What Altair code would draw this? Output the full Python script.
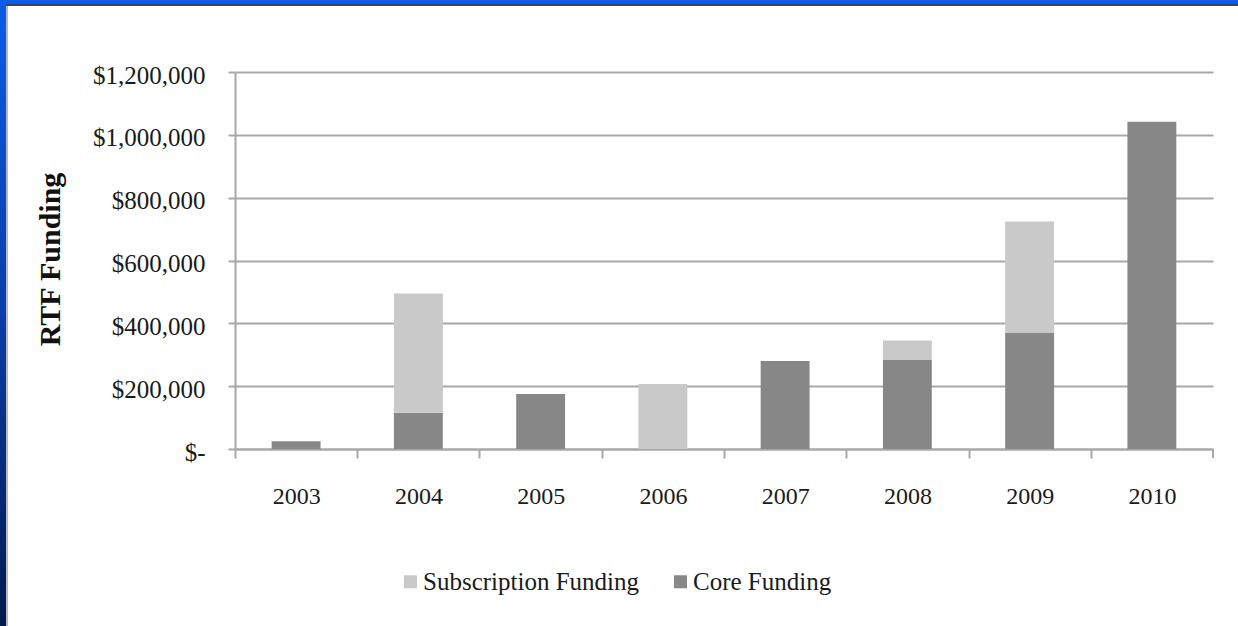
import altair as alt
import pandas as pd

years = ["2003", "2004", "2005", "2006", "2007", "2008", "2009", "2010"]
core_funding = [25000, 115000, 175000, 0, 280000, 283000, 369000, 1042000]
subscription_funding = [0, 380000, 0, 207000, 0, 62000, 355000, 0]
series_names = ["Subscription Funding", "Core Funding"]
series_colors = ["#c9c9c9", "#878787"]
y_ticks = [0, 200000, 400000, 600000, 800000, 1000000, 1200000]

rows = []
for i, y in enumerate(years):
    rows.append({"year": y, "type": "Core Funding", "value": core_funding[i], "ord": 0})
    rows.append({"year": y, "type": "Subscription Funding", "value": subscription_funding[i], "ord": 1})
df = pd.DataFrame(rows)

W, H = 978, 377
PL, PT, PR, PB = 235, 72, 25, 177
STEP = W / len(years)
FONT = "Liberation Serif"
GRID = "#a8a8a8"

one = pd.DataFrame({"k": [0]})

left_grad = alt.LinearGradient(
    gradient="linear",
    stops=[alt.GradientStop(color="#0b5ce8", offset=0),
           alt.GradientStop(color="#0a3ea8", offset=0.5),
           alt.GradientStop(color="#021a4e", offset=1)],
    x1=0, x2=0, y1=0, y2=1,
)

frame_left = alt.Chart(one).mark_rect(color=left_grad).encode(
    x=alt.value(-PL), x2=alt.value(-PL + 6),
    y=alt.value(-PT), y2=alt.value(H + PB),
)
frame_left_line = alt.Chart(one).mark_rect(color="#b8b8b8").encode(
    x=alt.value(-PL + 6), x2=alt.value(-PL + 8),
    y=alt.value(-PT + 4), y2=alt.value(H + PB),
)
frame_top = alt.Chart(one).mark_rect(color="#0b5ce8").encode(
    x=alt.value(-PL), x2=alt.value(W + PR),
    y=alt.value(-PT), y2=alt.value(-PT + 4),
)
frame_top_line = alt.Chart(one).mark_rect(color="#444444").encode(
    x=alt.value(-PL + 6), x2=alt.value(W + PR),
    y=alt.value(-PT + 4), y2=alt.value(-PT + 6),
)
# closing tick at the right end of the category axis
end_tick = alt.Chart(one).mark_rule(color=GRID, strokeWidth=2).encode(
    x=alt.value(W), y=alt.value(H), y2=alt.value(H + 9),
)

label_expr = "datum.value == 0 ? '$-\u00a0\u00a0' : '$' + format(datum.value, ',')"

bars = alt.Chart(df).mark_bar().encode(
    x=alt.X(
        "year:N",
        sort=years,
        scale=alt.Scale(paddingInner=0.6, paddingOuter=0.3),
        axis=alt.Axis(
            title=None, labelAngle=0, labelFont=FONT, labelFontSize=24,
            labelColor="#1a1a1a", labelPadding=26, tickSize=9, tickColor=GRID,
            tickWidth=2, domainColor=GRID, domainWidth=2,
            tickOffset=-STEP / 2, labelOffset=STEP / 2,
            grid=False,
        ),
    ),
    y=alt.Y(
        "value:Q",
        stack="zero",
        scale=alt.Scale(domain=[0, 1200000], nice=False),
        axis=alt.Axis(
            title="RTF Funding", titleFont=FONT, titleFontSize=30,
            titleFontWeight="bold", titleColor="#111111", titleAngle=-90,
            titleX=-185, titleY=187, titleAlign="center", titleBaseline="middle",
            values=y_ticks, labelExpr=label_expr, labelFont=FONT,
            labelFontSize=25, labelColor="#1a1a1a", labelPadding=23,
            labelOffset=3, tickSize=7, tickColor=GRID, tickWidth=2,
            domainColor=GRID, domainWidth=2, grid=True, gridColor=GRID,
            gridWidth=2,
        ),
    ),
    color=alt.Color(
        "type:N",
        scale=alt.Scale(domain=series_names, range=series_colors),
        legend=alt.Legend(
            title=None, orient="none", legendX=163, legendY=497,
            direction="horizontal", symbolType="square", symbolSize=169,
            symbolStrokeWidth=0, labelFont=FONT, labelFontSize=25,
            labelColor="#1a1a1a", labelOffset=0, columnPadding=29,
            labelLimit=400,
        ),
    ),
    order=alt.Order("ord:Q"),
)

chart = alt.layer(
    frame_left, frame_left_line, frame_top, frame_top_line, bars, end_tick
).properties(
    width=W, height=H,
    autosize=alt.AutoSizeParams(type="none"),
    padding={"left": PL, "top": PT, "right": PR, "bottom": PB},
    background="#ffffff",
).configure_view(stroke=None)

chart.save("out.html", embed_options={"renderer": "svg", "actions": False})
